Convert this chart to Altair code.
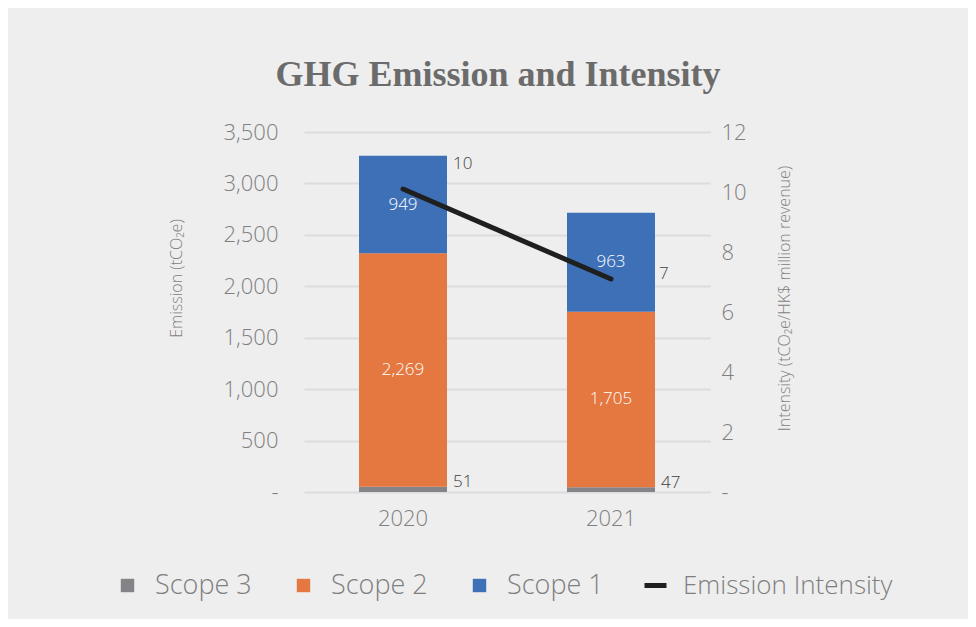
import altair as alt
import pandas as pd

years = ["2020", "2021"]
scopes = ["Scope 3", "Scope 2", "Scope 1"]
scope3 = [51, 47]
scope2 = [2269, 1705]
scope1 = [949, 963]
intensity = [10.1, 7.1]
series_name = "Emission Intensity"

bar_colors = ["#838488", "#E47840", "#3E70B8"]
line_color = "#1F1F1F"

rows = []
for i, y in enumerate(years):
    for k, (s, vals) in enumerate(zip(scopes, [scope3, scope2, scope1])):
        rows.append({"year": y, "scope": s, "value": vals[i], "order": k})
df_bar = pd.DataFrame(rows)
df_line = pd.DataFrame({"year": years, "intensity": intensity, "series": [series_name] * len(years)})

FONT = "Open Sans"
GRAY = "#7f7f7f"

bar_legend = alt.Legend(
    title=None, orient="none", direction="horizontal", legendX=-190, legendY=440, padding=0,
    labelFont=FONT, labelFontSize=27, labelColor=GRAY, labelFontWeight=300, labelLimit=400,
    symbolSize=180, symbolType="square", symbolStrokeWidth=0, labelOffset=14,
    columnPadding=38, gridAlign="none",
)
line_legend = alt.Legend(
    title=None, orient="none", direction="horizontal", legendX=338, legendY=440, padding=0,
    labelFont=FONT, labelFontSize=26, labelColor=GRAY, labelFontWeight=300, labelLimit=400,
    symbolSize=484, symbolType="stroke", symbolStrokeWidth=5, labelOffset=14,
)

xenc = alt.X("year:N", sort=years, title=None,
             scale=alt.Scale(paddingInner=0.577, paddingOuter=0.2645),
             axis=alt.Axis(labelAngle=0, labelFont=FONT, labelFontSize=22, labelColor=GRAY,
                           labelFontWeight=300, labelPadding=16, domain=False, ticks=False))

base = alt.Chart(df_bar).transform_stack(
    stack="value", groupby=["year"], as_=["y0", "y1"], sort=[alt.SortField("order", order="ascending")]
).transform_calculate(mid="(datum.y0 + datum.y1) / 2")

bars = base.mark_bar().encode(
    x=xenc,
    y=alt.Y("y0:Q", scale=alt.Scale(domain=[0, 3500], nice=False),
            axis=alt.Axis(values=list(range(0, 3501, 500)), title="Emission (tCO₂e)",
                          labelExpr="datum.value == 0 ? '-' : format(datum.value, ',')",
                          labelFont=FONT, labelFontSize=22, labelColor=GRAY, labelFontWeight=300,
                          labelPadding=26, domain=False, ticks=False,
                          gridColor="#dcdcdc", gridWidth=2,
                          titleFont=FONT, titleFontSize=16, titleFontWeight=300, titleColor=GRAY,
                          titleX=-128, titleY=146, titleBaseline="middle", titleAngle=270)),
    y2="y1:Q",
    color=alt.Color("scope:N", sort=scopes, scale=alt.Scale(domain=scopes, range=bar_colors), legend=bar_legend),
)

inner_text = base.transform_filter(alt.FieldOneOfPredicate(field="scope", oneOf=["Scope 1", "Scope 2"])).mark_text(
    color="white", font=FONT, fontSize=17, fontWeight=300, baseline="middle"
).encode(x=alt.X("year:N", sort=years), y="mid:Q", text=alt.Text("value:Q", format=","))

s3_text = base.transform_filter(alt.datum.scope == "Scope 3").mark_text(
    color="#404040", font=FONT, fontSize=17, fontWeight=300, align="left", dx=50, dy=-7, baseline="middle"
).encode(x=alt.X("year:N", sort=years), y="mid:Q", text=alt.Text("value:Q", format=","))

left = alt.layer(bars, inner_text, s3_text)

lbase = alt.Chart(df_line)
yright = alt.Y("intensity:Q", scale=alt.Scale(domain=[0, 12], nice=False),
               axis=alt.Axis(orient="right", values=list(range(0, 13, 2)),
                             title="Intensity (tCO₂e/HK$ million revenue)",
                             labelExpr="datum.value == 0 ? '-' : format(datum.value, 'd')",
                             labelFont=FONT, labelFontSize=22, labelColor=GRAY, labelFontWeight=300,
                             labelPadding=11, domain=False, ticks=False, grid=False,
                             titleFont=FONT, titleFontSize=16, titleFontWeight=300, titleColor=GRAY,
                             titleX=74, titleY=166, titleBaseline="middle", titleAngle=270))

line = lbase.mark_line(strokeWidth=5, strokeCap="round").encode(
    x=alt.X("year:N", sort=years), y=yright,
    stroke=alt.Stroke("series:N", scale=alt.Scale(domain=[series_name], range=[line_color]), legend=line_legend),
)

lt1 = lbase.transform_filter(alt.datum.year == "2020").mark_text(
    color="#404040", font=FONT, fontSize=17, fontWeight=300, align="left", dx=50, dy=-25, baseline="middle"
).encode(x=alt.X("year:N", sort=years), y=alt.Y("intensity:Q"), text=alt.Text("intensity:Q", format=".0f"))
lt2 = lbase.transform_filter(alt.datum.year == "2021").mark_text(
    color="#404040", font=FONT, fontSize=17, fontWeight=300, align="left", dx=48, dy=-5, baseline="middle"
).encode(x=alt.X("year:N", sort=years), y=alt.Y("intensity:Q"), text=alt.Text("intensity:Q", format=".0f"))

right = alt.layer(line, lt1, lt2)

chart = alt.layer(left, right).resolve_scale(y="independent").properties(
    width=406, height=360,
    autosize=alt.AutoSizeParams(type="none"),
    padding={"left": 296, "top": 124, "right": 258, "bottom": 127},
    background="#eeeeee",
    title=alt.TitleParams("GHG Emission and Intensity", font="Liberation Serif", fontSize=36,
                          fontWeight="bold", color="#6b6b6b", anchor="middle", dx=-9, offset=27),
).configure_view(stroke=None)

chart.save("out.html", embed_options={"renderer": "svg", "actions": False})
